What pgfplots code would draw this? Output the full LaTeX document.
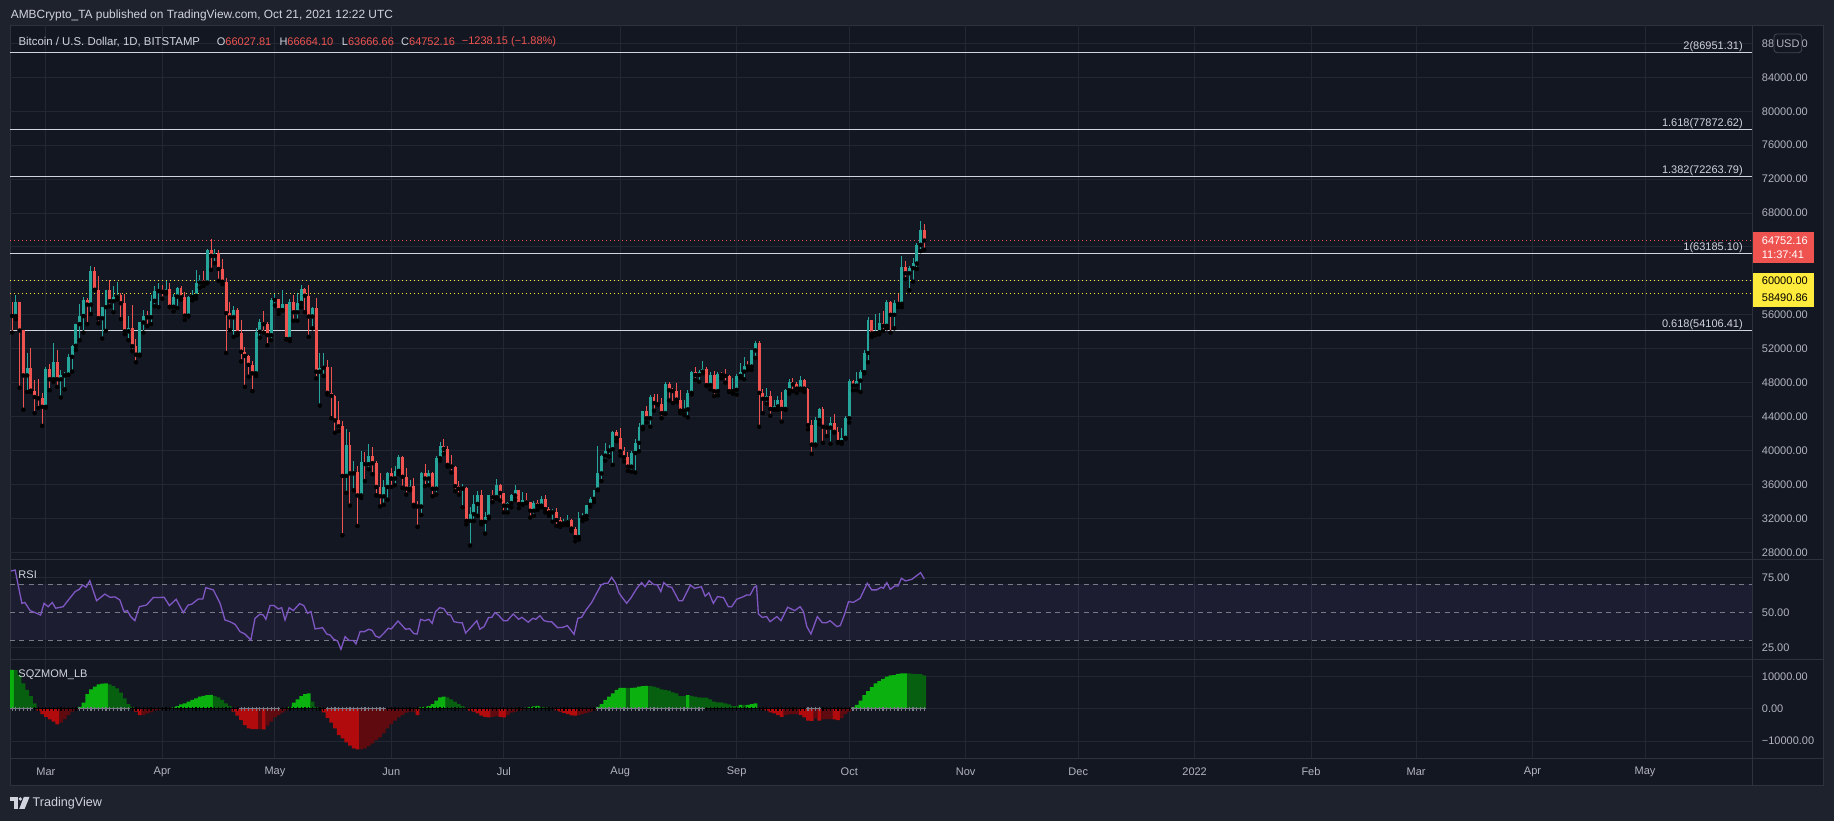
\documentclass[border=0pt]{standalone}
\usepackage{fontspec}
\usepackage{pgfplots}
\usepackage{pgfplotstable}
\pgfplotsset{compat=1.18}
\usetikzlibrary{calc}
\newfontfamily\tv{Liberation Sans}
\newcommand\tvs{\tv\fontsize{11}{13}\selectfont}

\definecolor{outerc}{HTML}{1E222D}
\definecolor{bgc}{HTML}{131722}
\definecolor{gridc}{HTML}{232733}
\definecolor{sepc}{HTML}{2E323D}
\definecolor{txtc}{HTML}{B2B5BE}
\definecolor{fibc}{HTML}{D1D4DC}
\definecolor{upc}{HTML}{26A69A}
\definecolor{dnc}{HTML}{EF5350}
\definecolor{yelc}{HTML}{FFEB3B}
\definecolor{rsic}{HTML}{7E57C2}
\definecolor{dashc}{HTML}{787B86}
\definecolor{limec}{HTML}{0BB20F}
\definecolor{greenc}{HTML}{075F10}
\definecolor{redc}{HTML}{B20B0E}
\definecolor{maroonc}{HTML}{5E0A0F}
\definecolor{badgec}{HTML}{434651}

% daily candles, day 0 = 1 Mar 2021
\pgfplotstableread{
d o h l c
-8 55850 58350 55500 57450
-5 48850 51500 46900 49700
0 45150 49800 45050 49600
2 48400 52650 48100 50400
4 48400 49500 46250 48850
5 48850 49200 47200 48950
6 48950 51400 48900 51050
7 51050 52450 49300 52350
8 52350 54900 51850 54900
9 54900 57300 53000 55850
10 55850 58100 53900 57800
12 57200 61750 56100 61150
15 55600 56900 53200 56900
16 56900 58950 54100 58900
18 57600 59400 56300 58150
19 58100 59900 57800 58300
22 54050 55800 53000 54400
25 51300 55100 51200 55100
26 55100 56600 53900 55850
28 55700 58300 54900 57650
29 57650 59400 57000 58800
30 58800 59800 56900 58900
32 58700 60000 58500 59000
34 56950 58500 56400 58150
35 58150 59300 56800 59150
38 55900 58200 55800 58100
39 58100 58900 57700 58250
40 58250 61250 57900 59800
41 59800 60700 59200 60050
43 59800 63800 59700 63600
45 62950 63800 62100 63250
50 55700 57000 53400 56550
56 49100 54400 48800 54000
57 54000 55500 53300 55150
60 53600 58000 53000 57750
61 57750 58400 57100 57850
63 56550 58900 56500 57250
65 53150 57900 52900 57550
67 56300 58600 55300 57400
68 57400 59500 56900 59050
71 55800 56900 54400 56850
73 49300 51550 45300 49750
74 49750 51500 48800 49900
80 37000 42500 35000 40700
82 37300 38800 35300 37500
84 34700 39900 34400 38700
86 38400 40800 37800 39300
90 34600 36500 33600 35700
91 35700 37500 34200 37300
93 36700 38200 35900 37600
94 37600 39500 37200 39200
97 35500 36500 35300 35800
100 33400 37500 32400 37400
102 36700 37700 35900 37300
104 35500 39300 34800 39100
105 39100 41000 38800 40500
111 35500 36000 33300 35600
113 31700 33300 28800 32500
114 32500 34800 31700 33700
115 33700 35200 32300 34700
117 31600 32700 30200 32200
118 32200 34700 32000 34700
120 34500 36600 34300 35900
123 33500 33900 32700 33800
124 33800 34900 33300 34700
125 34700 35900 34200 35300
127 33700 35100 33600 34200
130 32900 34100 32300 33800
132 33500 34600 33300 34300
135 32700 33100 31600 32800
138 31400 31900 31200 31550
139 31550 32400 31200 31800
142 29800 32800 29500 32100
143 32100 32600 31700 32300
144 32300 33600 31900 33600
145 33600 34500 33400 34300
146 34300 35400 33900 35400
147 35400 40500 35300 37300
148 37300 39500 36400 39400
149 39400 40900 38800 40000
150 40000 40600 39300 40150
151 40150 42300 38300 42200
156 38100 39900 37500 39700
157 39700 41400 37400 40900
158 40900 43300 39900 42800
159 42800 44700 42500 44600
161 43800 46500 42800 46300
165 44400 48100 44300 47800
170 44700 46000 44200 44850
171 44850 47100 43900 46800
172 46800 49400 46600 49300
174 48900 49500 48100 49300
175 49300 50500 49100 49550
177 47700 49200 47200 48950
179 47000 49200 46500 49000
183 47000 48500 46700 47150
184 47150 49000 46600 48800
185 48800 50300 48600 49300
186 49300 51000 48400 50000
188 49900 51900 49500 51800
189 51800 52900 50900 52700
192 46100 47400 45500 46400
194 44900 45900 44800 45200
195 45200 46400 44800 46000
197 44900 47200 44800 47100
198 47100 48400 46700 48100
201 47300 48800 47100 48300
205 40700 44000 40600 43600
206 43600 45000 43100 44900
209 42700 43900 40800 43200
212 41000 42600 40800 41500
213 41500 44100 41400 43800
214 43800 48400 43300 48150
216 47650 49200 47100 48250
217 48250 49500 46900 49250
218 49250 51900 49100 51500
219 51500 55700 50400 55350
221 53800 56100 53600 53950
222 53950 56200 53700 55000
224 54700 57800 54400 57500
226 56000 57700 54400 57400
228 57300 62950 56900 61600
230 60900 61700 58900 61500
231 61500 62700 59900 62050
232 62050 64500 61400 64250
233 64250 67050 63500 66000
}\upbars

\pgfplotstableread{
d o h l c
-9 55950 57500 53900 55850
-7 57450 57500 47400 54150
-6 54150 54200 44800 48850
-4 49700 52100 46900 47050
-3 47050 48300 44400 46300
-2 46300 48400 45000 46150
-1 46150 46750 42900 45150
1 49600 50200 47100 48400
3 50400 51800 47500 48400
11 57800 58000 54900 57200
13 61150 61600 58900 58950
14 58950 60600 55000 55600
17 58900 60100 57000 57600
20 58300 58600 55500 57350
21 57350 58400 53700 54050
23 54400 57200 51700 52300
24 52300 53200 50400 51300
27 55850 56500 54700 55700
31 58900 59500 57900 58700
33 59000 59800 56900 56950
36 59150 59400 57800 58050
37 58050 58700 55400 55900
42 60050 61200 59400 59800
44 63600 64900 61300 62950
46 63250 63600 60000 61400
47 61400 62600 59600 59900
48 59900 60300 51500 56200
49 56200 57500 54200 55700
51 56550 56800 53600 53850
52 53850 55400 50500 51650
53 51650 52200 47500 51150
54 51150 51250 48700 50100
55 50100 50600 47000 49100
58 55150 56400 53900 54900
59 54900 55200 52400 53600
62 57850 57900 56100 56550
64 57250 57300 53100 53150
66 57550 58300 55300 56300
69 59050 59200 56300 58250
70 58250 59500 53400 55800
72 56850 58000 48500 49300
75 49900 50700 46600 46800
76 46800 49800 43800 46450
77 46450 46600 42100 43550
78 43550 45800 42300 42850
79 42850 43500 30000 37000
81 40700 42200 33500 37300
83 37500 38200 31100 34700
85 38700 39800 36400 38400
87 39300 40400 37200 38500
88 38500 38800 34700 35700
89 35700 37300 33400 34600
92 37300 37900 35700 36700
95 39200 39300 35600 36900
96 36900 37900 34800 35500
98 35800 36800 33400 33600
99 33600 34100 31000 33400
101 37400 38400 35800 36700
103 37300 37500 34600 35500
106 40500 41300 39600 40200
107 40200 40500 38100 38300
108 38300 39500 37400 38100
109 38100 38200 35200 35800
110 35800 36400 34800 35500
112 35600 35700 31300 31700
116 34700 35400 31300 31600
119 34700 35300 33900 34500
121 35900 36100 34100 35000
122 35000 35000 32700 33500
126 35300 35300 33200 33700
128 34200 35000 33800 33900
129 33900 33900 32100 32900
131 33800 34200 33000 33500
133 34300 34700 32700 33100
134 33100 33300 32300 32700
136 32800 33200 31100 31800
137 31800 32200 31000 31400
140 31800 31900 30500 30800
141 30800 31000 29300 29800
152 42200 42400 41100 41500
153 41500 42600 39400 39900
154 39900 40400 38700 39200
155 39200 39800 37600 38100
160 44600 45300 43300 43800
162 46300 46700 44700 45600
163 45600 46700 45400 45450
164 45450 46200 43800 44400
166 47800 48100 45900 47100
167 47100 47400 45600 47000
168 47000 48000 45700 46000
169 46000 47100 44400 44700
173 49300 49800 48300 48900
176 49550 49900 47600 47700
178 48950 49400 46400 47000
180 49000 49300 48500 48900
181 48900 49600 48000 48800
182 48800 48900 46900 47000
187 50000 50500 49500 49900
190 52700 52900 42800 46800
191 46800 47300 44400 46100
193 46400 47000 44100 44900
196 46000 46900 43400 44900
199 48100 48500 47000 47800
200 47800 48100 46800 47300
202 48300 48400 46900 47300
203 47300 47400 42500 43000
204 43000 43600 39600 40700
207 44900 45100 40900 42800
208 42800 42900 41700 42700
210 43200 44300 42100 42200
211 42200 42800 40900 41000
215 48150 48300 47100 47650
220 55350 55400 53400 53800
223 55000 56500 54100 54700
225 57500 57600 53900 56000
227 57400 58500 56900 57300
229 61600 62300 60200 60900
234 66027.81 66664.10 63666.66 64752.16
}\dnbars

\pgfplotsset{
  pane/.style={scale only axis, width=1742pt, xmin=-9.563, xmax=454.47,
    anchor=south west, axis line style={draw=none}, tick style={draw=none},
    scaled ticks=false,
    xtick={0,31,61,92,122,153,184,214,245,275,306,337,365,396,426},
    xticklabels={}, yticklabels={},
    grid=major, major grid style={draw=gridc, line width=1pt},
    clip=false},
  wick/.style={only marks, mark=none, error bars/.cd, y dir=plus, y explicit,
    error mark=none, error bar style={line width=1pt, draw=#1}},
  body/.style={only marks, mark=none, error bars/.cd, y dir=plus, y explicit,
    error mark=none, error bar style={line width=2.9pt, draw=#1}},
  fib/.style={draw=fibc, line width=1.2pt},
  dots/.style={draw=#1, line width=1.2pt, dash pattern=on 1.4pt off 2.6pt},
  hist/.style={ybar, bar width=1, bar shift=0pt, draw=none, fill=#1},
}
\tikzset{
  rlab/.style={anchor=west, inner sep=0pt, text=txtc, font=\tvs, xshift=9.7pt},
  flab/.style={anchor=base east, inner sep=0pt, text=fibc, font=\tvs, xshift=-9pt, yshift=3pt},
}

\begin{document}
\begin{tikzpicture}[x=1pt,y=1pt]
\fill[outerc] (0,0) rectangle (1834,821);
\filldraw[fill=bgc, draw=sepc, line width=1pt] (10,35.3) rectangle (1823,795);

% ---------- price pane ----------
\begin{axis}[pane, at={(10pt,261.7pt)}, height=534.3pt,
  ymin=27174, ymax=90166, ytick={28000,32000,36000,40000,44000,48000,52000,56000,60000,64000,68000,72000,76000,80000,84000,88000}]

\addplot[fib] coordinates {(-9.563,86951.31) (454.47,86951.31)};
\addplot[fib] coordinates {(-9.563,77872.62) (454.47,77872.62)};
\addplot[fib] coordinates {(-9.563,72263.79) (454.47,72263.79)};
\addplot[fib] coordinates {(-9.563,63185.10) (454.47,63185.10)};
\addplot[fib] coordinates {(-9.563,54106.41) (454.47,54106.41)};
\addplot[dots=dnc] coordinates {(-9.563,64752.16) (454.47,64752.16)};
\addplot[dots=yelc] coordinates {(-9.563,60000) (454.47,60000)};
\addplot[dots=yelc] coordinates {(-9.563,58490.86) (454.47,58490.86)};

\addplot[wick=upc] table[x=d, y=l, y error expr=\thisrow{h}-\thisrow{l}] {\upbars};
\addplot[body=upc] table[x=d, y=o, y error expr=\thisrow{c}-\thisrow{o}] {\upbars};
\addplot[wick=dnc] table[x=d, y=l, y error expr=\thisrow{h}-\thisrow{l}] {\dnbars};
\addplot[body=dnc] table[x=d, y=c, y error expr=\thisrow{o}-\thisrow{c}] {\dnbars};

\node[flab] at (axis cs:454.47,86951.31) {2(86951.31)};
\node[flab] at (axis cs:454.47,77872.62) {1.618(77872.62)};
\node[flab] at (axis cs:454.47,72263.79) {1.382(72263.79)};
\node[flab] at (axis cs:454.47,63185.10) {1(63185.10)};
\node[flab] at (axis cs:454.47,54106.41) {0.618(54106.41)};

% price scale (60000 and 64000 sit under the price boxes)
\pgfplotsinvokeforeach{28000,32000,36000,40000,44000,48000,52000,56000,68000,72000,76000,80000,84000}{
  \node[rlab] at (axis cs:454.47,#1) {#1.00};
}
% 88000.00 is mostly hidden by the currency badge
\node[rlab] at (axis cs:454.47,88000) {88};
\node[rlab, xshift=39.8pt] at (axis cs:454.47,88000) {0};
\filldraw[fill=bgc, draw=badgec, rounded corners=3pt, line width=0.8pt]
  ($(axis cs:454.47,88000)+(22pt,9.4pt)$) rectangle ($(axis cs:454.47,88000)+(49.7pt,-9.3pt)$);
\node[inner sep=0pt, text=txtc, font=\tvs] at ($(axis cs:454.47,88000)+(35.9pt,0pt)$) {USD};

\fill[dnc] ($(axis cs:454.47,64752.16)+(0pt,8.6pt)$) rectangle ($(axis cs:454.47,64752.16)+(61.7pt,-22.1pt)$);
\node[rlab, text=white] at (axis cs:454.47,64752.16) {64752.16};
\node[rlab, text=white, yshift=-14.4pt] at (axis cs:454.47,64752.16) {11:37:41};
\fill[yelc] ($(axis cs:454.47,60000)+(0pt,7.9pt)$) rectangle ($(axis cs:454.47,60000)+(61.7pt,-25.8pt)$);
\node[rlab, text=black] at (axis cs:454.47,60000) {60000.00};
\node[rlab, text=black, yshift=-16.6pt] at (axis cs:454.47,60000) {58490.86};
\end{axis}

% ---------- RSI pane ----------
\begin{axis}[pane, at={(10pt,161.7pt)}, height=100pt, ymin=16.43, ymax=87.857, ytick={25,75}]
\addplot[fill=rsic, fill opacity=0.1, draw=none] coordinates {(-9.563,30) (454.47,30) (454.47,70) (-9.563,70)} -- cycle;
\addplot[draw=dashc, line width=1pt, dash pattern=on 5pt off 4.5pt] coordinates {(-9.563,70) (454.47,70)};
\addplot[draw=dashc, line width=1pt, dash pattern=on 5pt off 4.5pt] coordinates {(-9.563,50) (454.47,50)};
\addplot[draw=dashc, line width=1pt, dash pattern=on 5pt off 4.5pt] coordinates {(-9.563,30) (454.47,30)};
\addplot[draw=rsic, line width=1.3pt] coordinates {
(-9.3,79.5) (-8.2,80.2) (-6.4,56.4) (-5.6,57.0) (-4.2,51.2) (-2.9,49.8) (-1.4,48.0) (-0.5,56.4) (0.6,54.0) (1.7,57.0) (2.6,52.9) (4.6,54.0) (6.0,58.8) (7.8,64.8) (8.9,66.4) (9.8,69.5) (10.7,67.9) (11.7,72.6) (13.5,58.3) (15.7,63.0) (17.1,60.7) (18.4,61.0) (19.7,58.8) (20.8,50.5) (21.7,51.2) (22.6,46.9) (23.7,44.0) (24.9,54.0) (26.8,55.2) (28.6,60.5) (31.5,60.7) (32.9,54.8) (34.7,59.3) (36.6,49.8) (37.9,55.2) (38.8,55.7) (40.6,59.5) (41.8,59.5) (42.6,67.6) (44.6,66.0) (46.4,56.4) (47.7,44.5) (49.0,43.3) (50.4,41.4) (51.7,36.2) (53.0,34.5) (54.6,30.2) (55.7,45.7) (57.0,48.6) (57.9,48.1) (58.6,45.0) (59.7,54.8) (60.8,54.8) (61.9,52.4) (62.8,53.3) (63.7,44.5) (64.8,53.3) (65.9,51.2) (67.6,56.2) (68.7,54.8) (69.7,49.3) (70.6,50.5) (71.7,38.1) (73.7,39.0) (74.8,34.5) (75.7,33.8) (76.7,30.7) (77.7,29.5) (78.6,23.6) (79.7,32.6) (80.8,29.8) (81.9,29.8) (82.6,27.4) (83.7,36.2) (84.9,36.2) (86.0,37.9) (86.9,37.1) (87.8,33.1) (88.8,31.9) (90.0,35.0) (91.2,38.6) (92.0,38.1) (93.8,43.8) (95.8,37.9) (96.9,38.3) (98.0,34.8) (98.9,34.5) (99.8,45.0) (100.9,44.0) (102.0,45.0) (102.9,42.1) (103.8,50.5) (104.9,53.3) (106.0,52.6) (107.1,48.3) (107.8,48.1) (108.7,43.3) (110.0,42.6) (110.9,42.6) (111.8,35.2) (113.0,38.6) (114.8,44.0) (115.6,37.9) (116.7,39.8) (117.9,46.2) (118.8,46.4) (119.6,49.8) (120.5,48.1) (121.9,44.0) (122.9,44.0) (124.5,48.8) (125.9,45.0) (126.8,46.4) (128.5,42.9) (129.7,45.7) (130.5,45.0) (131.6,47.6) (132.7,44.0) (133.8,43.3) (134.7,43.3) (136.3,39.0) (137.8,39.3) (138.9,40.5) (140.7,34.3) (141.7,45.7) (142.7,46.4) (143.9,51.7) (145.4,57.1) (146.7,63.6) (147.9,69.5) (148.8,70.7) (149.7,70.7) (150.7,75.0) (151.8,70.7) (152.7,63.6) (154.7,56.4) (155.9,60.5) (157.4,67.1) (158.7,71.2) (159.6,68.3) (160.7,72.6) (161.8,70.0) (162.9,69.5) (163.8,64.8) (164.6,71.2) (165.8,68.3) (166.7,67.9) (168.6,58.3) (169.6,58.3) (171.7,69.5) (172.8,67.1) (174.6,68.3) (175.6,61.5) (176.6,64.0) (177.8,56.4) (178.9,61.2) (180.5,60.5) (181.8,54.0) (182.7,54.0) (184.0,59.3) (185.4,60.7) (186.7,62.4) (187.6,62.4) (188.7,67.9) (189.3,68.8) (189.8,48.8) (190.8,46.4) (192.0,46.9) (192.9,43.3) (194.7,46.9) (195.8,44.0) (197.6,53.6) (199.5,51.2) (200.9,54.0) (201.8,50.5) (202.7,39.8) (203.8,34.5) (205.5,46.9) (206.8,42.6) (208.0,42.6) (208.9,44.0) (210.7,39.8) (211.6,40.5) (212.7,48.1) (213.8,57.6) (215.1,57.1) (216.9,60.0) (218.8,70.7) (220.0,66.0) (221.3,66.0) (222.5,67.9) (223.1,67.1) (224.0,71.2) (224.9,66.4) (226.1,68.8) (227.0,68.8) (227.9,74.3) (229.0,72.4) (230.7,73.6) (233.0,78.3) (234.0,73.8)};
\node[rlab] at (axis cs:454.47,75) {75.00};
\node[rlab] at (axis cs:454.47,50) {50.00};
\node[rlab] at (axis cs:454.47,25) {25.00};
\node[anchor=west, inner sep=0pt, text=fibc, font=\tvs] at ($(rel axis cs:0,1)+(8.3pt,-15.7pt)$) {RSI};
\end{axis}

% ---------- squeeze momentum pane ----------
\begin{axis}[pane, at={(10pt,62.7pt)}, height=99pt, ymin=-15332, ymax=15270, ytick={-10000,0,10000},
  xticklabels={Mar,Apr,May,Jun,Jul,Aug,Sep,Oct,Nov,Dec,2022,Feb,Mar,Apr,May},
  xticklabel style={anchor=center, yshift=-13.7pt, text=txtc, font=\tvs}]
\addplot[hist=limec] coordinates {(-9,12000) (9,600) (10,1850) (11,4500) (12,6000) (13,6800) (14,7500) (15,7750) (16,7800) (33,150) (34,400) (35,800) (36,1350) (37,1650) (38,2150) (39,2700) (40,3200) (41,3700) (42,4000) (43,4200) (44,4250) (65,600) (66,1850) (67,2900) (68,3900) (69,4500) (70,4750) (100,500) (101,600) (102,800) (103,1450) (104,2500) (105,3500) (106,3700) (128,300) (129,500) (130,700) (131,900) (147,600) (148,1450) (149,2700) (150,3700) (151,4750) (152,5800) (153,6400) (154,6450) (156,6450) (157,6550) (158,6800) (159,7000) (160,7050) (171,4200) (185,1150) (187,1200) (188,1450) (189,1650) (215,400) (216,1150) (217,2500) (218,4200) (219,5450) (220,6700) (221,7800) (222,8550) (223,9200) (224,9900) (225,10300) (226,10350) (227,10800) (228,10900) (229,10950)};
\addplot[hist=greenc] coordinates {(-8,11900) (-7,10400) (-6,7800) (-5,5800) (-4,3900) (-3,1650) (17,7500) (18,7000) (19,6300) (20,4950) (21,3200) (22,1450) (23,600) (45,3900) (46,3500) (47,2700) (48,1650) (49,800) (71,2150) (72,600) (73,150) (107,3500) (108,2900) (109,2150) (110,1450) (111,800) (112,300) (132,600) (133,400) (134,300) (135,200) (155,6400) (161,7000) (162,6800) (163,6500) (164,6000) (165,5800) (166,5550) (167,5050) (168,4750) (169,3900) (170,3900) (172,4000) (173,3700) (174,3500) (175,3450) (176,3400) (177,2900) (178,2150) (179,1950) (180,1950) (181,1650) (182,1350) (183,800) (184,800) (186,1150) (190,200) (230,10900) (231,10800) (232,10700) (233,10650) (234,10300)};
\addplot[hist=redc] coordinates {(-2,-600) (-1,-1650) (0,-2500) (1,-3300) (2,-4000) (3,-4850) (24,-900) (25,-2000) (50,-900) (51,-2150) (52,-3500) (53,-5050) (54,-6100) (55,-6300) (56,-6350) (58,-6400) (74,-1150) (75,-2800) (76,-4300) (77,-6100) (78,-8150) (79,-9200) (80,-10400) (81,-11450) (82,-12270) (83,-12600) (99,-2000) (113,-600) (114,-900) (115,-1450) (116,-2150) (117,-2500) (118,-2700) (121,-2500) (122,-2700) (136,-500) (137,-900) (138,-1300) (139,-1700) (140,-2100) (141,-2150) (191,-300) (192,-600) (193,-1150) (194,-1450) (195,-2000) (196,-2500) (201,-2000) (202,-2700) (203,-3700) (204,-3750) (206,-3700) (210,-3300) (211,-3500)};
\addplot[hist=maroonc] coordinates {(4,-4300) (5,-3200) (6,-2000) (7,-900) (8,-300) (26,-2000) (27,-1450) (28,-1150) (29,-600) (30,-400) (31,-150) (32,-100) (57,-6300) (59,-5250) (60,-4000) (61,-2700) (62,-2000) (63,-1250) (64,-500) (84,-12550) (85,-12270) (86,-11550) (87,-10700) (88,-9700) (89,-8900) (90,-7600) (91,-6100) (92,-4750) (93,-3700) (94,-2700) (95,-2000) (96,-1250) (97,-900) (98,-900) (119,-2500) (120,-2300) (123,-2000) (124,-1250) (125,-900) (126,-600) (127,-300) (142,-2000) (143,-1700) (144,-1300) (145,-900) (146,-500) (197,-2000) (198,-1750) (199,-1650) (200,-1650) (205,-3000) (207,-3300) (208,-3200) (209,-3200) (212,-3000) (213,-1650) (214,-900)};
% squeeze off (gray) and squeeze on (black) crosses on the zero line
\addplot[only marks, mark=+, mark size=2pt, mark options={draw=dashc, line width=1.2pt}] coordinates {(-9,0) (-8,0) (-7,0) (-6,0) (-5,0) (-4,0) (9,0) (10,0) (11,0) (12,0) (13,0) (14,0) (15,0) (16,0) (17,0) (18,0) (19,0) (20,0) (21,0) (22,0) (52,0) (53,0) (54,0) (55,0) (56,0) (57,0) (58,0) (59,0) (60,0) (61,0) (62,0) (75,0) (76,0) (77,0) (78,0) (79,0) (80,0) (81,0) (82,0) (83,0) (84,0) (85,0) (86,0) (87,0) (88,0) (89,0) (90,0) (147,0) (148,0) (149,0) (150,0) (151,0) (152,0) (153,0) (154,0) (155,0) (156,0) (157,0) (158,0) (159,0) (160,0) (161,0) (162,0) (163,0) (164,0) (165,0) (166,0) (167,0) (168,0) (169,0) (170,0) (171,0) (172,0) (173,0) (174,0) (175,0) (203,0) (204,0) (205,0) (206,0) (215,0) (216,0) (217,0) (218,0) (219,0) (220,0) (221,0) (222,0) (223,0) (224,0) (225,0) (226,0) (227,0) (228,0) (229,0) (230,0) (231,0) (232,0) (233,0) (234,0)};
\addplot[only marks, mark=+, mark size=2pt, mark options={draw=black, line width=1.2pt}] coordinates {(-3,0) (-2,0) (-1,0) (0,0) (1,0) (2,0) (3,0) (4,0) (5,0) (6,0) (7,0) (8,0) (23,0) (24,0) (25,0) (26,0) (27,0) (28,0) (29,0) (30,0) (31,0) (32,0) (33,0) (34,0) (35,0) (36,0) (37,0) (38,0) (39,0) (40,0) (41,0) (42,0) (43,0) (44,0) (45,0) (46,0) (47,0) (48,0) (49,0) (50,0) (51,0) (63,0) (64,0) (65,0) (66,0) (67,0) (68,0) (69,0) (70,0) (71,0) (72,0) (73,0) (74,0) (91,0) (92,0) (93,0) (94,0) (95,0) (96,0) (97,0) (98,0) (99,0) (100,0) (101,0) (102,0) (103,0) (104,0) (105,0) (106,0) (107,0) (108,0) (109,0) (110,0) (111,0) (112,0) (113,0) (114,0) (115,0) (116,0) (117,0) (118,0) (119,0) (120,0) (121,0) (122,0) (123,0) (124,0) (125,0) (126,0) (127,0) (128,0) (129,0) (130,0) (131,0) (132,0) (133,0) (134,0) (135,0) (136,0) (137,0) (138,0) (139,0) (140,0) (141,0) (142,0) (143,0) (144,0) (145,0) (146,0) (176,0) (177,0) (178,0) (179,0) (180,0) (181,0) (182,0) (183,0) (184,0) (185,0) (186,0) (187,0) (188,0) (189,0) (190,0) (191,0) (192,0) (193,0) (194,0) (195,0) (196,0) (197,0) (198,0) (199,0) (200,0) (201,0) (202,0) (207,0) (208,0) (209,0) (210,0) (211,0) (212,0) (213,0) (214,0)};
\node[rlab] at (axis cs:454.47,10000) {10000.00};
\node[rlab] at (axis cs:454.47,0) {0.00};
\node[rlab] at (axis cs:454.47,-10000) {−10000.00};
\node[anchor=west, inner sep=0pt, text=fibc, font=\tvs] at ($(rel axis cs:0,1)+(8.3pt,-15.7pt)$) {SQZMOM\_LB};
\end{axis}

% pane separators
\draw[sepc, line width=1pt] (10,261.7) -- (1823,261.7);
\draw[sepc, line width=1pt] (10,161.7) -- (1823,161.7);
\draw[sepc, line width=1pt] (10,62.7) -- (1823,62.7);
\draw[sepc, line width=1pt] (1752,35.3) -- (1752,795);

% header
\node[anchor=west, inner sep=0pt, text=fibc, font=\tv\fontsize{11.9}{14}\selectfont] at (10.7,806) {AMBCrypto\_TA published on TradingView.com, Oct 21, 2021 12:22 UTC};
\node[anchor=west, inner sep=0pt, text=fibc, font=\tv\fontsize{11.4}{14}\selectfont] at (18.3,779.3) {Bitcoin / U.S. Dollar, 1D, BITSTAMP};
\node[anchor=west, inner sep=0pt, font=\tvs] at (216.7,779.3) {\textcolor{fibc}{O}\textcolor{dnc}{66027.81}};
\node[anchor=west, inner sep=0pt, font=\tvs] at (279.3,779.3) {\textcolor{fibc}{H}\textcolor{dnc}{66664.10}};
\node[anchor=west, inner sep=0pt, font=\tvs] at (341.7,779.3) {\textcolor{fibc}{L}\textcolor{dnc}{63666.66}};
\node[anchor=west, inner sep=0pt, font=\tvs] at (401,779.3) {\textcolor{fibc}{C}\textcolor{dnc}{64752.16}};
\node[anchor=west, inner sep=0pt, text=dnc, font=\tvs] at (461.7,779.3) {−1238.15 (−1.88\%)};

% TradingView logo
\fill[fibc] (9.6,24) rectangle (17.6,20.4);
\fill[fibc] (13.6,24) rectangle (17.6,12);
\fill[fibc] (20.3,22) circle (1.8);
\fill[fibc] (23.8,24) -- (29.5,24) -- (24.6,12) -- (19.2,12) -- cycle;
\node[anchor=west, inner sep=0pt, text=fibc, font=\tv\fontsize{12.6}{15}\selectfont] at (32.5,18) {TradingView};
\end{tikzpicture}
\end{document}
